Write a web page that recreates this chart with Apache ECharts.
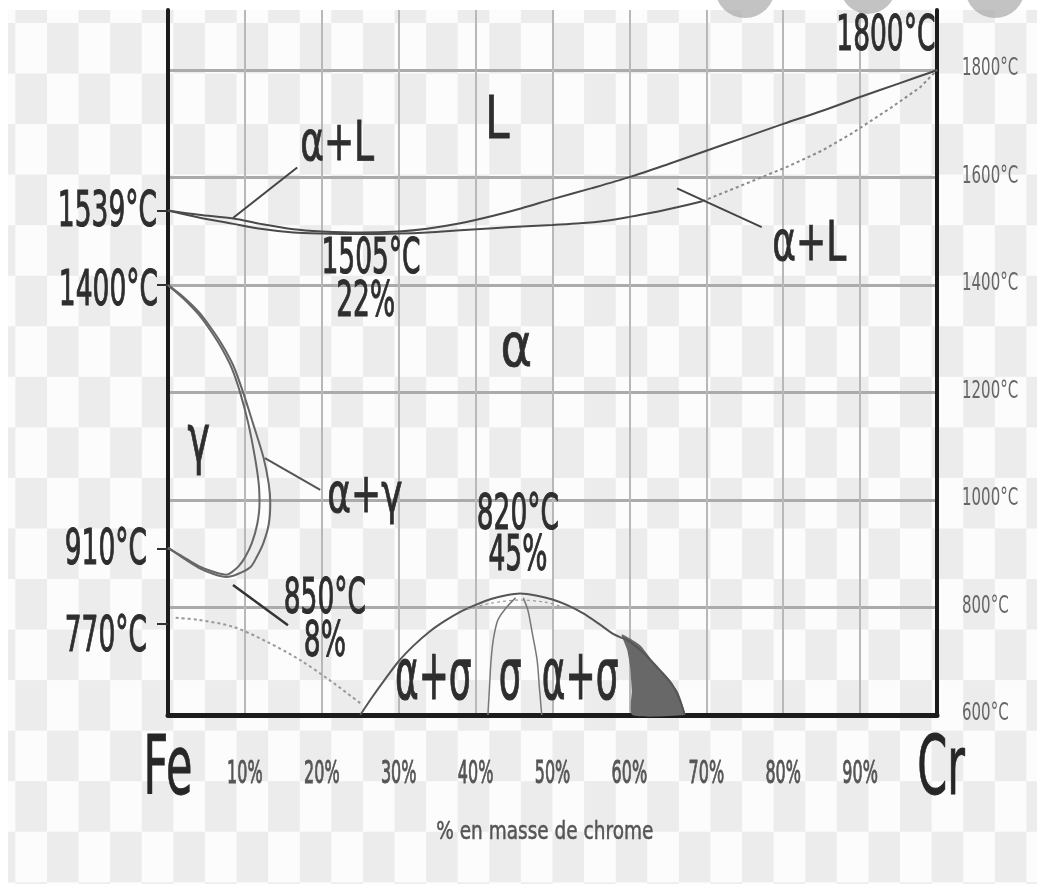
<!DOCTYPE html>
<html>
<head>
<meta charset="utf-8">
<style>
html,body{margin:0;padding:0;width:1037px;height:884px;background:#fff;overflow:hidden}
#bg{position:absolute;left:8px;top:10px;width:1029px;height:874px;
background:repeating-conic-gradient(#ececec 0 25%, #fcfcfc 0 50%);
background-size:63.2px 101.1px;background-position:7.4px 13px;}
#chart{position:absolute;left:0;top:0;width:1037px;height:884px}
</style>
<script src="https://cdn.jsdelivr.net/npm/echarts@6/dist/echarts.min.js"></script>
</head>
<body>
<div id="bg"></div>
<div id="chart"></div>
<script>
// ---- axis ticks ----
const xTicks = [10, 20, 30, 40, 50, 60, 70, 80, 90];
const xTickLabels = ['10%', '20%', '30%', '40%', '50%', '60%', '70%', '80%', '90%'];
const yTicks = [600, 800, 1000, 1200, 1400, 1600, 1800];
const yTickLabels = ['600°C', '800°C', '1000°C', '1200°C', '1400°C', '1600°C', '1800°C'];
const leftTickValues = [1539, 1400, 910, 770];
const leftTickLabels = ['1539°C', '1400°C', '910°C', '770°C'];
const elementLabels = ['Fe', 'Cr'];
const elementAt = [0, 100];
const axisTitle = '% en masse de chrome';

// ---- phase boundaries [% Cr, °C] ----
const liquidus = [[0,1539],[4,1531],[8.5,1524],[12,1514],[16.3,1504],[20,1500],[25,1498],[30,1500],[33.7,1505],[38,1515],[42.3,1529],[46,1543],[50,1560],[55,1580],[60,1601],[65,1625],[70,1650],[75,1675],[80,1700],[85,1724],[90,1750],[95,1775],[100,1800]];
const solidus = [[0,1539],[4,1526],[8.5,1514],[12,1505],[16.3,1498],[20,1496],[25,1495],[30,1496],[33.7,1498],[38,1502],[42.3,1506],[46,1509],[50,1512],[53.6,1515],[57,1520],[60,1527],[63,1535],[66.2,1545],[69.5,1556]];
const solidusDotted = [[69.5,1556],[75,1588],[80.5,1620],[85,1650],[89,1683],[94,1730],[97.8,1768],[100,1800]];
const gammaOuter = [[0,1400],[2,1378],[4,1350],[5.5,1322],[7,1290],[8.5,1250],[9.8,1199],[11,1145],[12.4,1080],[13.1,1030],[13.3,994],[13.1,955],[12.4,920],[11.5,893],[10.7,875],[9,862],[7.6,857],[6,862],[4,874],[2,892],[0,912]];
const gammaInner = [[0,1400],[2,1375],[4,1345],[5.5,1316],[7,1282],[8.3,1245],[9.4,1199],[10.4,1145],[11.3,1080],[11.8,1030],[11.9,994],[11.6,955],[10.9,920],[10,893],[9.2,877],[8.3,866],[7.6,861],[6,866],[4,877],[2,894],[0,910]];
const curieLine = [[1,781],[4,777],[8.5,764],[12.9,736],[17.2,702],[21,665],[25,622]];
const sigmaDome = [[25,600],[26.5,632],[28,662],[30,700],[32,730],[34,755],[36,775],[38,792],[40,805],[42,816],[44,823],[45.8,826],[48,822],[50,815],[52,804],[54,789],[56,770],[58,750],[60,737],[62,713],[64,683],[65.5,658],[66.5,630],[67.2,600]];
const sigmaInnerTop = [[39,797],[42,808],[45.8,814],[49,810],[51,803]];
const sigmaLeft = [[45.2,818],[44,800],[42.9,777],[42.3,740],[42,700],[41.8,650],[41.6,600]];
const sigmaRight = [[46.2,818],[46.8,795],[47.4,750],[48,702],[48.3,650],[48.6,600]];
const sigmaShade = [[59,750],[61.4,730],[63.6,689],[66.2,646],[67.2,606],[67.2,600],[60.4,600],[60.3,646],[60.1,689],[59.7,722]];

// ---- leader lines ----
const leaderAL1 = [[8.45,1525],[16.8,1619]];
const leaderAL2 = [[66.2,1580],[77.2,1508]];
const leaderAG = [[12.6,1078],[19.8,1019]];
const leader850 = [[8.45,842],[15.6,767]];

// ---- annotations [text, % Cr, °C] ----
const phaseLabels = [['α+L',22,1660],['α+L',83.4,1474],['α+γ',25.6,1004]];
const sigmaLabels = [['α+σ',34.5,665],['σ',44.5,665],['α+σ',53.6,665]];
const liquidLabel = [['L',42.8,1703]];
const alphaLabel = [['α',45.3,1279]];
const gammaLabel = [['γ',4,1105]];
const pointLabels = [['1505°C',26.4,1446],['22%',25.7,1366],['820°C',45.5,970],['45%',45.5,894],['850°C',20.4,814],['8%',20.4,734]];
const crMeltLabel = [['1800°C',99.8,1861]];

const FONT = "'DejaVu Sans', sans-serif";
const leftLabelDx = [-11, -10, -21, -21];
const leftLabelDy = [2, 7, 2, 14];

function textSeries(items, cls, z) {
  return {
    type: 'custom', coordinateSystem: 'cartesian2d', clip: false, silent: true, z: z || 10,
    data: items.map(d => [d[1], d[2]]),
    renderItem: function (params, api) {
      const it = items[params.dataIndex];
      const p = api.coord([api.value(0), api.value(1)]);
      const dx = (cls.dx || 0) + (it[3] || 0);
      const dy = (cls.dy || 0) + (it[4] || 0);
      const al = cls.align || 'center';
      const col = cls.color || '#333';
      return {
        type: 'text', x: p[0] + dx, y: p[1] + dy,
        scaleX: cls.sx || 1, scaleY: cls.sy || 1,
        style: {
          text: it[0], fontSize: cls.size, fontFamily: FONT, fontWeight: cls.weight || 'normal',
          fill: col, stroke: cls.sw ? col : null, lineWidth: cls.sw || 0,
          align: al, textAlign: al,
          verticalAlign: 'middle', textVerticalAlign: 'middle'
        }
      };
    }
  };
}

function lineS(data, color, width, type, smooth) {
  return {
    type: 'line', data: data, symbol: 'none', silent: true, smooth: smooth === undefined ? 0.3 : smooth,
    lineStyle: { color: color, width: width, type: type || 'solid' }, z: 3
  };
}

const chart = echarts.init(document.getElementById('chart'), null, { renderer: 'canvas' });

const xTickItems = xTicks.map((v, i) => [xTickLabels[i], v, 600]);
const yTickItems = yTicks.map((v, i) => [yTickLabels[i], 100, v]);
const leftItems = leftTickValues.map((v, i) => [leftTickLabels[i], 0, v, leftLabelDx[i], leftLabelDy[i]]);
const elemItems = elementLabels.map((t, i) => [t, elementAt[i], 600, i === 1 ? 4 : 0, 0]);

const option = {
  animation: false,
  backgroundColor: 'transparent',
  grid: { left: 168, right: 100, top: 10, bottom: 169, containLabel: false, outerBoundsMode: 'none' },
  xAxis: {
    type: 'value', min: 0, max: 100, interval: 10,
    axisLine: { show: true, onZero: false, lineStyle: { color: '#1c1c1c', width: 5 } },
    axisTick: { show: false }, axisLabel: { show: false },
    splitLine: { show: true, lineStyle: { color: '#b8b8b8', width: 2 } }
  },
  yAxis: [{
    type: 'value', min: 600, max: 1912, interval: 200, position: 'left',
    axisLine: { show: true, onZero: false, lineStyle: { color: '#1c1c1c', width: 4 } },
    axisTick: { show: false },
    axisLabel: { show: false },
    splitLine: { show: true, showMaxLine: false, lineStyle: { color: '#ababab', width: 3 } }
  }, {
    type: 'value', min: 600, max: 1912, interval: 200, position: 'right',
    axisLine: { show: true, onZero: false, lineStyle: { color: '#1c1c1c', width: 4 } },
    axisTick: { show: false }, axisLabel: { show: false }, splitLine: { show: false }
  }, {
    type: 'value', min: 600, max: 1912, position: 'left',
    axisLine: { show: false },
    axisTick: { show: true, customValues: leftTickValues, length: 11, lineStyle: { color: '#333', width: 2 } },
    axisLabel: { show: false }, splitLine: { show: false }
  }],
  graphic: [
    { type: 'circle', shape: { cx: 745, cy: -12, r: 30 }, style: { fill: '#aaaaaa', opacity: 0.7 }, z: 0 },
    { type: 'circle', shape: { cx: 868, cy: -14, r: 28 }, style: { fill: '#aaaaaa', opacity: 0.7 }, z: 0 },
    { type: 'circle', shape: { cx: 995, cy: -12, r: 30 }, style: { fill: '#aaaaaa', opacity: 0.7 }, z: 0 }
  ],
  series: [
    {
      type: 'custom', coordinateSystem: 'cartesian2d', silent: true, z: 2,
      data: [[sigmaShade[0][0], sigmaShade[0][1]]],
      renderItem: function (params, api) {
        return { type: 'polygon', shape: { points: sigmaShade.map(p => api.coord(p)), smooth: 0.2 }, style: { fill: '#686868' } };
      }
    },
    lineS(liquidus, '#4a4a4a', 2),
    lineS(solidus, '#4a4a4a', 2),
    lineS(solidusDotted, '#8a8a8a', 2, [3, 3], 0),
    lineS(gammaOuter, '#666', 2),
    lineS(gammaInner, '#666', 2),
    lineS(curieLine, '#999', 2, [3, 3]),
    lineS(sigmaDome, '#555', 2),
    lineS(sigmaInnerTop, '#999', 1.2, [3, 3]),
    lineS(sigmaLeft, '#777', 1.5),
    lineS(sigmaRight, '#777', 1.5),
    lineS(leaderAL1, '#444', 2, 'solid', 0),
    lineS(leaderAL2, '#444', 2, 'solid', 0),
    lineS(leaderAG, '#555', 2, 'solid', 0),
    lineS(leader850, '#333', 2.5, 'solid', 0),
    textSeries(phaseLabels, { size: 36, sy: 1.55, color: '#2e2e2e', sw: 0.6 }),
    textSeries(sigmaLabels, { size: 36, sy: 2.0, color: '#2e2e2e', sw: 0.6 }),
    textSeries(liquidLabel, { size: 44, sy: 1.35, color: '#2e2e2e', sw: 0.6 }),
    textSeries(alphaLabel, { size: 48, sy: 1.25, color: '#2e2e2e', sw: 0.6 }),
    textSeries(gammaLabel, { size: 38, sy: 1.75, color: '#2e2e2e', sw: 0.6 }),
    textSeries(pointLabels, { size: 26.5, sy: 1.9, color: '#2e2e2e', sw: 0.6 }),
    textSeries(crMeltLabel, { size: 26.5, sy: 1.9, color: '#2e2e2e', sw: 0.6, align: 'right' }),
    textSeries(leftItems, { size: 26.5, sy: 1.9, color: '#2e2e2e', sw: 0.6, align: 'right' }),
    textSeries(elemItems, { size: 43, sy: 1.9, color: '#262626', sw: 0.5, dy: 58 }),
    textSeries(xTickItems, { size: 16, sy: 2.0, color: '#555', sw: 0.5, dy: 60 }),
    textSeries(yTickItems, { size: 15, sy: 1.6, color: '#666', align: 'left', dx: 25, dy: -1 }),
    textSeries([[axisTitle, 49, 600]], { size: 18.5, sy: 1.3, color: '#555', sw: 0.4, dy: 118 })
  ]
};
chart.setOption(option);
</script>
</body>
</html>
